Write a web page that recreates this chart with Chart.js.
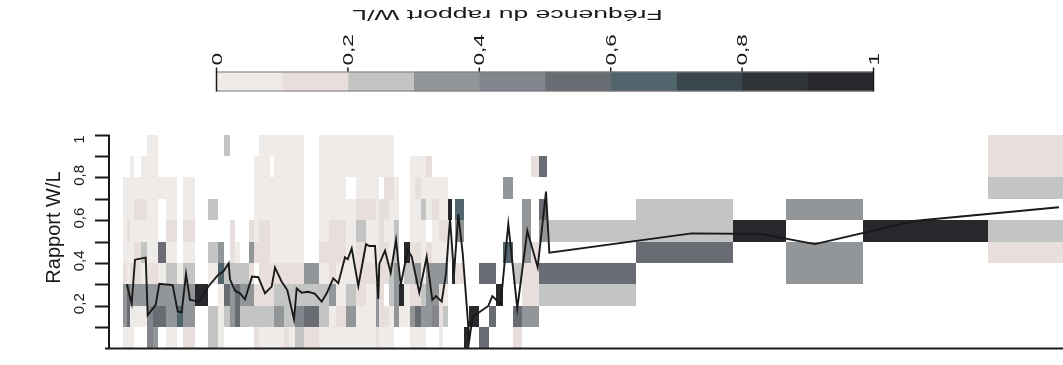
<!DOCTYPE html>
<html>
<head>
<meta charset="utf-8">
<script src="https://cdn.jsdelivr.net/npm/chart.js@4.4.1/dist/chart.umd.min.js"></script>
<style>
  body { margin: 0; background: #fff; }
  #wrap { position: relative; width: 1063px; height: 365px; }
  canvas { position: absolute; left: 0; top: 0; }
</style>
</head>
<body>
<div id="wrap">
  <canvas id="mainChart" width="1063" height="365"></canvas>
  <canvas id="keyChart" width="1063" height="100"></canvas>
</div>
<script>
// classes de fréquence (légende)
const freqBreaks = [0, 0.1, 0.2, 0.3, 0.4, 0.5, 0.6, 0.7, 0.8, 0.9, 1];
const freqColors = ['#efebe9', '#e8dedb', '#c3c5c4', '#939698', '#82858b',
                    '#6a6c73', '#51656c', '#3b474e', '#2f3236', '#28272c'];
const keyTicks = [0, 0.2, 0.4, 0.6, 0.8, 1];

// classes du rapport W/L (lignes de la grille)
const rowEdges = [0, 0.1, 0.2, 0.3, 0.4, 0.5, 0.6, 0.7, 0.8, 0.9, 1];
const yTicks = [0.1, 0.2, 0.3, 0.4, 0.5, 0.6, 0.7, 0.8, 0.9, 1];

// limites des colonnes (axe x sans graduation)
const colEdges = [13, 17, 20, 24, 31, 37, 43, 48, 56, 67,
                  73, 85, 98, 108, 114, 120, 125, 130, 139, 144,
                  149, 160, 164, 174, 179, 185, 194, 209, 219, 226,
                  236, 246, 256, 266, 269, 274, 279, 284, 289, 294,
                  300, 305, 311, 316, 322, 329, 333, 338, 342, 345,
                  348, 354, 359, 369, 379, 386, 393, 403, 412, 421,
                  429, 437, 526, 623, 676, 753, 878, 953];

// une chaîne par colonne, du bas (0-0,1) vers le haut (0,9-1) : classe de couleur, '.' = vide
const colCells = [
  '03310000..', '05500100..', '003100000.', '.0311010..', '.03020100.',
  '4431000000', '3531000000', '.5305..0..', '03320100..', '.630......',
  '13320100..', '..9.......', '22.02.2...', '00063.....', '.252.....2',
  '.33211....', '.5520.....', '.232......', '.23131....', '121.10000.',
  '0211110000', '02110000.0', '0321000000', '1221000000', '0221000000',
  '2421000000', '1523......', '0220100000', '0031110000', '0100110000',
  '0320000.00', '0011121000', '0001001000', '1330000000', '0111111.00',
  '01.1101100', '0022000100', '.3332200..', '.09.......', '.0029.....',
  '031210000.', '051310010.', '032000200.', '.3331.001.', '.4330010..',
  '01130100..', '.2030100..', '....0.9...', '...9......', '...1.36...',
  '...1.36...', '9.........', '.9........', '5..5......', '.5.5......',
  '..9.......', '....6..3..', '15.2......', '.311333...', '.3111...1.',
  '..25.35.5.', '..25.2....', '....522...', '.....9....', '...33.3...',
  '.....9....', '....12.211'
];

// rapport W/L moyen
const lineX = [16.7, 21.7, 25, 35.7, 37.7, 45.7, 49.3, 62.7, 67.7, 71.7,
               76, 80, 89.3, 98.3, 108.3, 113.3, 118.7, 120, 125, 130,
               135, 142, 148.3, 155, 161.7, 165, 171.7, 177.3, 184, 186.7,
               191.7, 198.3, 205, 211.7, 216.7, 223.3, 228.3, 235, 237.7, 241.7,
               248.3, 256, 259.3, 265, 268.3, 269.3, 275, 280.7, 286, 290.7,
               297.7, 301.7, 309.3, 316.7, 322.3, 326, 331.7, 336, 340, 344,
               348.3, 352.7, 359.3, 362.7, 370, 378.3, 382.3, 390.7, 398.3, 407.3,
               417.3, 427.7, 436, 439.3, 581.6, 651.3, 705, 806, 949];
const lineY = [0.30, 0.21, 0.415, 0.425, 0.156, 0.204, 0.302, 0.296, 0.173, 0.169,
               0.349, 0.227, 0.22, 0.29, 0.345, 0.36, 0.398, 0.323, 0.27, 0.258,
               0.23, 0.336, 0.333, 0.258, 0.289, 0.378, 0.312, 0.273, 0.136, 0.281,
               0.261, 0.265, 0.255, 0.219, 0.258, 0.328, 0.305, 0.426, 0.417, 0.468,
               0.292, 0.488, 0.479, 0.479, 0.231, 0.395, 0.457, 0.354, 0.507, 0.297,
               0.46, 0.429, 0.261, 0.429, 0.227, 0.245, 0.219, 0.351, 0.608, 0.348,
               0.627, 0.445, 0.04, 0.149, 0.172, 0.199, 0.245, 0.207, 0.582, 0.188,
               0.55, 0.379, 0.733, 0.448, 0.538, 0.535, 0.488, 0.597, 0.66];

const FONT = '"Liberation Sans", Arial, sans-serif';
const INK = '#1a1a1a';
const fmt = v => String(v).replace('.', ',');

// cellules de la grille, posées via les échelles du graphique
const heatCells = {
    id: 'heatCells',
    beforeDatasetsDraw(chart) {
        const {ctx, scales: {x, y}} = chart;
        ctx.save();
        colCells.forEach((col, i) => {
            const x0 = Math.round(x.getPixelForValue(colEdges[i]));
            const x1 = Math.round(x.getPixelForValue(colEdges[i + 1]));
            for (let r = 0; r < col.length; r++) {
                if (col[r] === '.') continue;
                const y0 = Math.round(y.getPixelForValue(rowEdges[r + 1]));
                const y1 = Math.round(y.getPixelForValue(rowEdges[r]));
                ctx.fillStyle = freqColors[+col[r]];
                ctx.fillRect(x0, y0, x1 - x0, y1 - y0);
            }
        });
        ctx.restore();
    }
};

// axes à la façon de R : traits épais, étiquettes tournées
const rAxes = {
    id: 'rAxes',
    afterDatasetsDraw(chart) {
        const {ctx, chartArea: {left, right, top, bottom}, scales: {y}} = chart;
        ctx.save();
        ctx.strokeStyle = INK;
        ctx.lineWidth = 2;
        ctx.beginPath();
        ctx.moveTo(left - 5, bottom);
        ctx.lineTo(right, bottom);
        ctx.moveTo(left - 1, top);
        ctx.lineTo(left - 1, bottom);
        yTicks.forEach(v => {
            const py = Math.round(y.getPixelForValue(v)) + 0.5;
            ctx.moveTo(left - 15, py);
            ctx.lineTo(left - 1, py);
        });
        ctx.stroke();

        ctx.fillStyle = INK;
        ctx.font = '15px ' + FONT;
        ctx.textAlign = 'center';
        ctx.textBaseline = 'middle';
        yTicks.filter((v, i) => i % 2 === 1).forEach(v => {
            const label = fmt(v);
            const half = ctx.measureText(label).width / 2;
            const cy = Math.max(y.getPixelForValue(v) - 2, top + half + 1);
            ctx.save();
            ctx.translate(left - 30, cy);
            ctx.rotate(-Math.PI / 2);
            ctx.fillText(label, 0, 0);
            ctx.restore();
        });

        ctx.font = '20px ' + FONT;
        ctx.translate(left - 56, (top + bottom) / 2 - 14);
        ctx.rotate(-Math.PI / 2);
        ctx.fillText('Rapport W/L', 0, 0);
        ctx.restore();
    }
};

const main = document.getElementById('mainChart').getContext('2d');
const mainChart = new Chart(main, {
    type: 'line',
    data: {
        datasets: [{
            label: 'Rapport W/L',
            data: lineX.map((x, i) => ({x: x, y: lineY[i]})),
            borderColor: INK,
            borderWidth: 1.9,
            pointRadius: 0,
            tension: 0,
            fill: false,
        }]
    },
    options: {
        responsive: false,
        animation: false,
        clip: false,
        layout: {
            padding: {top: 134.5, right: 0, bottom: 16.5, left: 110}
        },
        plugins: {
            legend: {display: false},
            tooltip: {enabled: false},
        },
        scales: {
            x: {type: 'linear', min: 0, max: 953, display: false},
            y: {type: 'linear', min: 0, max: 1, display: false},
        },
    },
    plugins: [heatCells, rAxes],
});

// barre de légende : graduations et titre (texte étiré comme dans l'original)
const keyDecor = {
    id: 'keyDecor',
    afterDatasetsDraw(chart) {
        const {ctx, chartArea: {left, right, top, bottom}, scales: {x}} = chart;
        ctx.save();
        ctx.strokeStyle = '#7a7a7a';
        ctx.lineWidth = 1;
        ctx.beginPath();
        ctx.moveTo(left, top + 0.5);
        ctx.lineTo(right, top + 0.5);
        ctx.moveTo(left, bottom - 0.5);
        ctx.lineTo(right, bottom - 0.5);
        ctx.stroke();

        ctx.strokeStyle = INK;
        ctx.lineWidth = 1.5;
        ctx.beginPath();
        keyTicks.forEach(v => {
            const px = x.getPixelForValue(v);
            const edge = (v === 0 || v === 1);
            ctx.moveTo(px, top - 4);
            ctx.lineTo(px, edge ? bottom : top);
        });
        ctx.stroke();

        ctx.fillStyle = INK;
        ctx.font = '15px ' + FONT;
        ctx.textAlign = 'left';
        ctx.textBaseline = 'middle';
        keyTicks.forEach(v => {
            ctx.save();
            ctx.translate(x.getPixelForValue(v) + 1, top - 6);
            ctx.rotate(-Math.PI / 2);
            ctx.scale(1.5, 1);
            ctx.fillText(fmt(v), 0, 0);
            ctx.restore();
        });

        ctx.textAlign = 'center';
        ctx.translate(507.5, 14);
        ctx.rotate(Math.PI);
        ctx.scale(1.9, 1);
        ctx.font = '14px ' + FONT;
        ctx.fillText('Fréquence du rapport W/L', 0, 0);
        ctx.restore();
    }
};

const key = document.getElementById('keyChart').getContext('2d');
const keyChart = new Chart(key, {
    type: 'bar',
    data: {
        labels: [''],
        datasets: freqColors.map((c, i) => ({
            label: fmt(freqBreaks[i]),
            data: [[freqBreaks[i], freqBreaks[i + 1]]],
            backgroundColor: c,
            borderWidth: 0,
            barPercentage: 1,
            categoryPercentage: 1,
            grouped: false,
        }))
    },
    options: {
        indexAxis: 'y',
        responsive: false,
        animation: false,
        layout: {
            padding: {top: 71.5, right: 189.5, bottom: 8.5, left: 216.5}
        },
        plugins: {
            legend: {display: false},
            tooltip: {enabled: false},
        },
        scales: {
            x: {type: 'linear', min: 0, max: 1, display: false},
            y: {display: false},
        },
    },
    plugins: [keyDecor],
});
</script>
</body>
</html>
